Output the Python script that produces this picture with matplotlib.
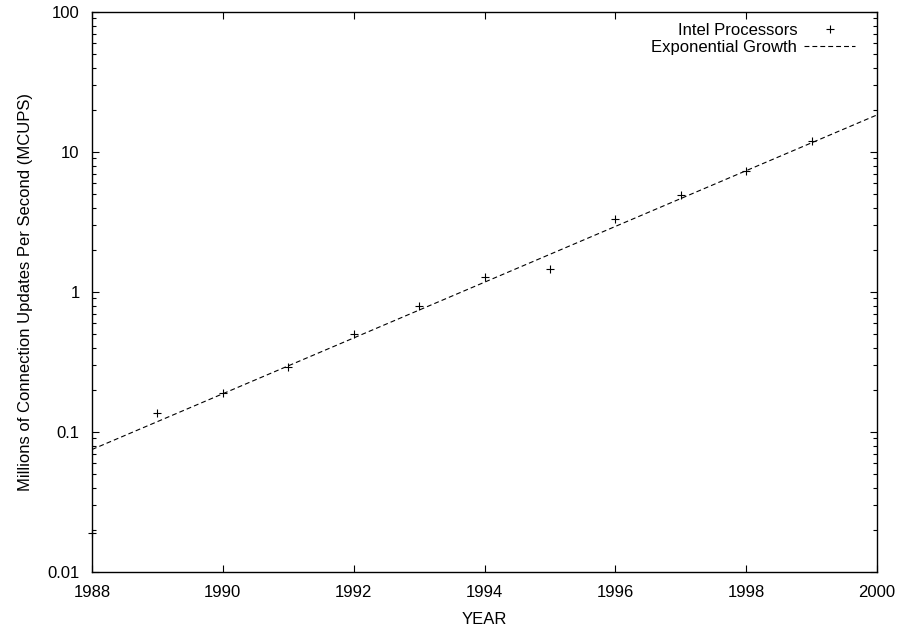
import numpy as np
import matplotlib
matplotlib.use('Agg')
import matplotlib.pyplot as plt
from matplotlib.ticker import FixedLocator, LogLocator, FuncFormatter, NullFormatter

# measured points (Intel processors)
years = [1988, 1989, 1990, 1991, 1992, 1993, 1994, 1995, 1996, 1997, 1998, 1999]
mcups = [0.019, 0.136, 0.19, 0.29, 0.50, 0.80, 1.27, 1.45, 3.3, 4.9, 7.35, 12.0]

# exponential fit, read at the two ends of the x range (straight line on log y)
fit_years = [1988, 2000]
fit_mcups = [0.075, 18.4]

xticks = [1988, 1990, 1992, 1994, 1996, 1998, 2000]
yticks = [0.01, 0.1, 1, 10, 100]

plt.rcParams['font.family'] = ['Liberation Sans', 'DejaVu Sans']
plt.rcParams['font.size'] = 12
plt.rcParams['lines.scale_dashes'] = False

fig = plt.figure(figsize=(9.01, 6.27), dpi=100)
ax = fig.add_axes([92/901, 1-572/627, (877-92)/901, (572-12)/627])

ax.plot(years, mcups, linestyle='None', marker='+', color='k',
        markersize=6, markeredgewidth=0.8, clip_on=False, label='Intel Processors')
ax.plot(fit_years, fit_mcups, color='k', linewidth=0.8, dashes=(3.5, 2.2),
        label='Exponential Growth')

ax.set_yscale('log')
ax.set_xlim(1988, 2000)
ax.set_ylim(0.01, 100)

ax.xaxis.set_major_locator(FixedLocator(xticks))
ax.yaxis.set_major_locator(FixedLocator(yticks))
ax.yaxis.set_major_formatter(FuncFormatter(lambda v, p: '%g' % v))
ax.yaxis.set_minor_locator(LogLocator(base=10, subs=np.arange(2, 10)))
ax.yaxis.set_minor_formatter(NullFormatter())

ax.tick_params(which='both', direction='in', top=True, right=True)
ax.tick_params(which='major', length=5, width=0.8)
ax.tick_params(which='minor', length=2.8, width=0.8)
ax.tick_params(axis='x', pad=9.5)
ax.tick_params(axis='y', pad=9)
for s in ax.spines.values():
    s.set_linewidth(1.0)

ax.set_xlabel('YEAR', labelpad=8.5)
ax.set_ylabel('Millions of Connection Updates Per Second (MCUPS)', labelpad=10)

ax.legend(loc='upper right', bbox_to_anchor=(0.972, 0.980), frameon=False,
          markerfirst=False, handlelength=3.05, handletextpad=0.42,
          labelspacing=0.12, borderaxespad=0, borderpad=0)

fig.savefig('out.png', dpi=100)
